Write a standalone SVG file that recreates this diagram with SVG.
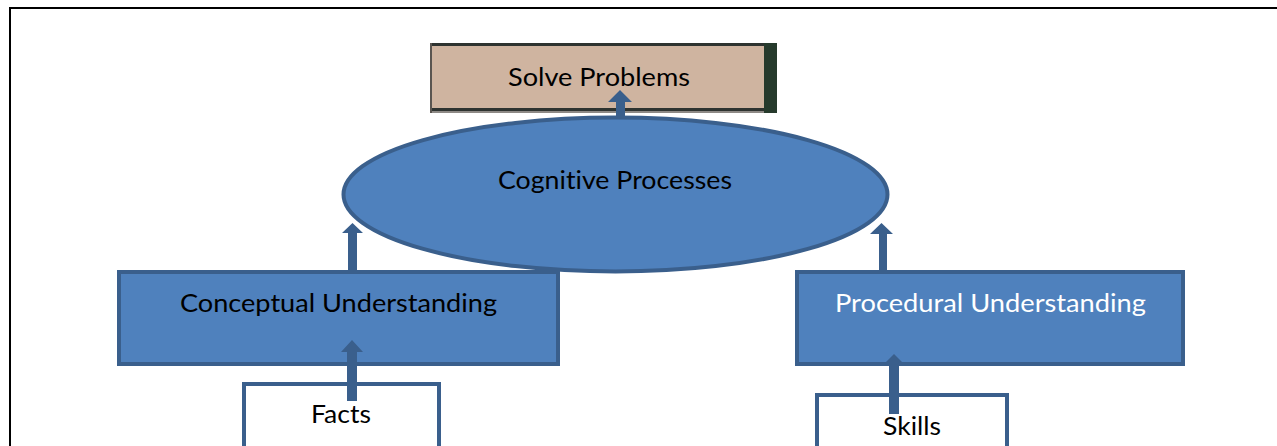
<svg xmlns="http://www.w3.org/2000/svg" width="1277" height="446" viewBox="0 0 1277 446">
  <style>
    .blue { fill: #4F81BD; stroke: #3A5F8C; stroke-width: 4; }
    .white { fill: #FFFFFF; stroke: #3A5F8C; stroke-width: 4; }
    .arrow { fill: #3A5F8C; stroke: none; }
    .t { font-family: "Lato", "Liberation Sans", sans-serif; font-size: 25px; text-anchor: middle; fill: #000000; font-variant-ligatures: none; font-feature-settings: "liga" 0, "dlig" 0; }
    .tw { fill: #FFFFFF; }
  </style>
  <rect x="0" y="0" width="1277" height="446" fill="#FFFFFF"/>
  <path d="M10 446 V8 H1277" fill="none" stroke="#000000" stroke-width="2"/>

  <g id="solve-problems">
    <rect x="430" y="43" width="347" height="70" fill="#CFB4A0"/>
    <rect x="430" y="43" width="347" height="3" fill="#2E3330"/>
    <rect x="430" y="108" width="347" height="3" fill="#2E3330"/>
    <rect x="430" y="111" width="347" height="2" fill="#8E8A86"/>
    <rect x="430" y="43" width="2" height="70" fill="#5A5550"/>
    <rect x="764" y="43" width="13" height="70" fill="#263A2C"/>
    <text class="t" x="599" y="86" textLength="182" lengthAdjust="spacingAndGlyphs">Solve Problems</text>
  </g>

  <g id="cognitive-processes">
    <ellipse class="blue" cx="615.5" cy="194.5" rx="272" ry="77"/>
    <text class="t" x="615" y="189" textLength="234" lengthAdjust="spacingAndGlyphs">Cognitive Processes</text>
  </g>

  <g id="conceptual-understanding">
    <rect class="blue" x="119" y="272" width="439" height="92"/>
    <text class="t" x="338.5" y="312" textLength="317" lengthAdjust="spacingAndGlyphs">Conceptual Understanding</text>
  </g>

  <g id="procedural-understanding">
    <rect class="blue" x="797" y="272" width="386" height="92"/>
    <text class="t tw" x="990.5" y="312" textLength="311" lengthAdjust="spacingAndGlyphs">Procedural Understanding</text>
  </g>

  <g id="facts">
    <rect class="white" x="244" y="384" width="195" height="90"/>
    <text class="t" x="341" y="423" textLength="60" lengthAdjust="spacingAndGlyphs">Facts</text>
  </g>

  <g id="skills">
    <rect class="white" x="817" y="395" width="190" height="90"/>
    <text class="t" x="912" y="435" textLength="58" lengthAdjust="spacingAndGlyphs">Skills</text>
  </g>

  <g id="connectors">
    <path class="arrow" d="M616 118 V102 H608 L620 90 L632 102 H625 V118 Z"/>
    <path class="arrow" d="M348 271 V233 H342 L352.5 223 L363 233 H357 V271 Z"/>
    <path class="arrow" d="M879 271 V234 H870 L881.5 223 L893 234 H887 V271 Z"/>
    <path class="arrow" d="M347 401 V352 H341 L352 340 L363 352 H357 V401 Z"/>
    <path class="arrow" d="M889 414 V362 H886 L894 354 L902 362 H899 V414 Z"/>
  </g>
</svg>
